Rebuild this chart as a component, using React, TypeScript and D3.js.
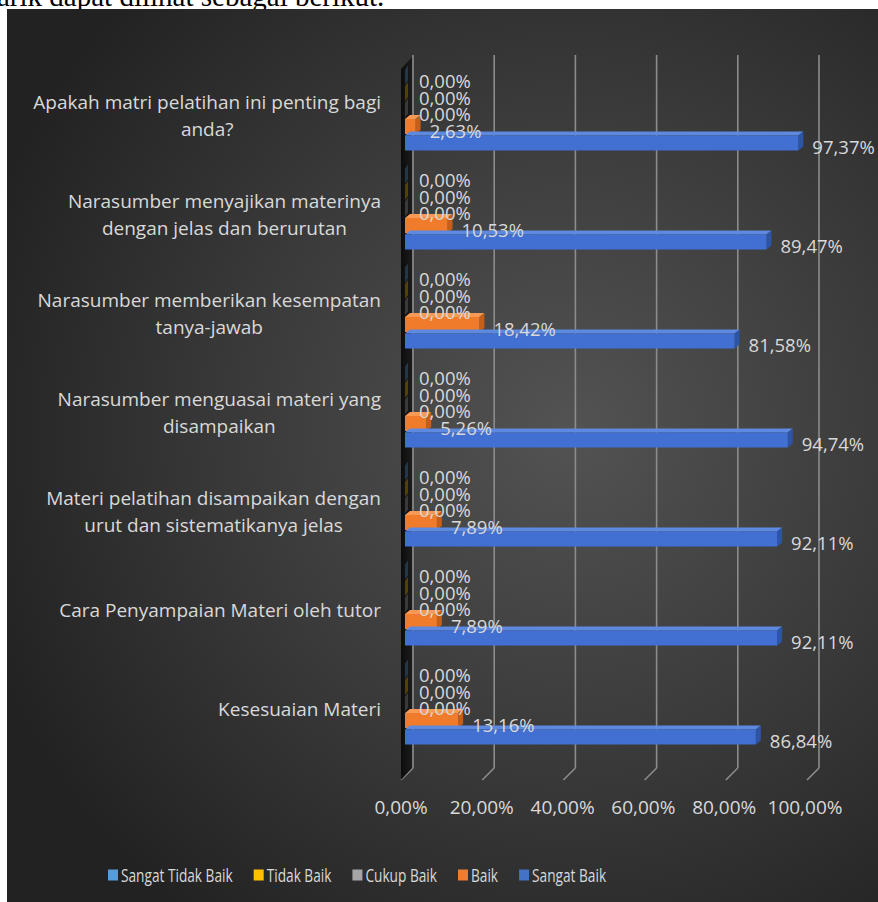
import React, { useEffect, useRef } from "react";
import * as d3 from "d3";

const categories = [
  "Apakah matri pelatihan ini penting bagi\nanda?",
  "Narasumber menyajikan materinya\ndengan jelas dan berurutan",
  "Narasumber memberikan kesempatan\ntanya-jawab",
  "Narasumber menguasai materi yang\ndisampaikan",
  "Materi pelatihan disampaikan dengan\nurut dan sistematikanya jelas",
  "Cara Penyampaian Materi oleh tutor",
  "Kesesuaian Materi",
];

const seriesNames = ["Sangat Tidak Baik", "Tidak Baik", "Cukup Baik", "Baik", "Sangat Baik"];
const sangatTidakBaik = [0, 0, 0, 0, 0, 0, 0];
const tidakBaik = [0, 0, 0, 0, 0, 0, 0];
const cukupBaik = [0, 0, 0, 0, 0, 0, 0];
const baik = [2.63, 10.53, 18.42, 5.26, 7.89, 7.89, 13.16];
const sangatBaik = [97.37, 89.47, 81.58, 94.74, 92.11, 92.11, 86.84];
const tickValues = [0, 20, 40, 60, 80, 100];

const seriesValues = [sangatTidakBaik, tidakBaik, cukupBaik, baik, sangatBaik];
const seriesColors = [
  { front: "#5b9bd5", top: "#7db3e3", side: "#3f78ad", legend: "#5b9bd5" },
  { front: "#ffc000", top: "#ffd24d", side: "#c79500", legend: "#ffc000" },
  { front: "#a5a5a5", top: "#c0c0c0", side: "#808080", legend: "#a5a5a5" },
  { front: "#f07b2a", top: "#f89a55", side: "#c45e18", legend: "#ed7d31" },
  { front: "#4170d2", top: "#5d8ae0", side: "#2d55a6", legend: "#4472c4" },
];

const fmt = (v: number) => v.toFixed(2).replace(".", ",") + "%";

export default function App() {
  const ref = useRef<SVGSVGElement | null>(null);

  useEffect(() => {
    const svg = d3.select(ref.current);
    svg.selectAll("*").remove();
    const FONT = "'Open Sans', 'Noto Sans', sans-serif";
    const TXT = "#d9d9d9";

    const defs = svg.append("defs");
    const rg = defs
      .append("radialGradient")
      .attr("id", "bg")
      .attr("gradientUnits", "userSpaceOnUse")
      .attr("cx", 570)
      .attr("cy", 430)
      .attr("r", 620);
    rg.append("stop").attr("offset", "0").attr("stop-color", "#535353");
    rg.append("stop").attr("offset", "0.55").attr("stop-color", "#393939");
    rg.append("stop").attr("offset", "1").attr("stop-color", "#222222");
    const wg = defs
      .append("linearGradient")
      .attr("id", "wall")
      .attr("x1", 0)
      .attr("y1", 0)
      .attr("x2", 1)
      .attr("y2", 0);
    wg.append("stop").attr("offset", "0").attr("stop-color", "#0c0c0c");
    wg.append("stop").attr("offset", "1").attr("stop-color", "#1c1c1c");

    // page text above chart
    svg
      .append("text")
      .attr("x", -3)
      .attr("y", 6)
      .attr("font-family", "'Liberation Serif', 'Times New Roman', serif")
      .attr("font-size", 29)
      .attr("fill", "#000")
      .text("arik dapat dilihat sebagai berikut.");

    // chart background
    svg
      .append("rect")
      .attr("x", 7)
      .attr("y", 9)
      .attr("width", 878 - 7)
      .attr("height", 902 - 9)
      .attr("fill", "url(#bg)");

    const depthX = 12;
    const depthY = 12;
    const backTop = 55;
    const backBottom = 768;

    const xFront = d3.scaleLinear().domain([0, 100]).range([401, 805]);
    const xBar = d3.scaleLinear().domain([0, 100]).range([405, 809]);
    const xBack = d3.scaleLinear().domain([0, 100]).range([413, 819]);
    const y = d3.scaleBand<string>().domain(categories).range([60.5, 753.5]);
    const slot = y.bandwidth() / 6;

    // gridlines on back wall
    const g = svg.append("g");
    g.selectAll("line.grid")
      .data(tickValues)
      .join("line")
      .attr("x1", (d) => xBack(d))
      .attr("x2", (d) => xBack(d))
      .attr("y1", backTop)
      .attr("y2", backBottom)
      .attr("stroke", "#8c8c8c")
      .attr("stroke-width", 1.6);
    g.selectAll("line.floor")
      .data(tickValues)
      .join("line")
      .attr("x1", (d) => xBack(d))
      .attr("x2", (d) => xBack(d) - depthX)
      .attr("y1", backBottom)
      .attr("y2", backBottom + depthY)
      .attr("stroke", "#8c8c8c")
      .attr("stroke-width", 1.6);

    // side wall
    g.append("polygon")
      .attr(
        "points",
        [
          [xBack(0) - depthX, backTop + 14],
          [xBack(0) - 1, backTop + 2],
          [xBack(0) - 1, backBottom],
          [xBack(0) - depthX, backBottom + depthY],
        ]
          .map((p) => p.join(","))
          .join(" ")
      )
      .attr("fill", "url(#wall)");

    // bars (top to bottom so lower bars overlap upper ones)
    const bd = 5;
    const bh = 4;
    const faceH = 15;
    categories.forEach((cat, i) => {
      const bandStart = y(cat)!;
      seriesValues.forEach((vals, k) => {
        const v = vals[i];
        const cy = bandStart + slot * (k + 1);
        const x0 = xBar(0);
        const x1 = xBar(v);
        const yt = cy - faceH / 2;
        const yb = cy + faceH / 2;
        const c = seriesColors[k];
        if (v > 0) {
          g.append("polygon")
            .attr("points", `${x0},${yt} ${x1},${yt} ${x1 + bd},${yt - bh} ${x0 + bd},${yt - bh}`)
            .attr("fill", c.top);
          g.append("polygon")
            .attr("points", `${x1},${yt} ${x1 + bd},${yt - bh} ${x1 + bd},${yb - bh} ${x1},${yb}`)
            .attr("fill", c.side);
          g.append("rect")
            .attr("x", x0)
            .attr("y", yt)
            .attr("width", x1 - x0)
            .attr("height", faceH)
            .attr("fill", c.front);
        } else {
          g.append("polygon")
            .attr("points", `${x0},${yt} ${x0 + bd - 2},${yt - bh} ${x0 + bd - 2},${yb - bh} ${x0},${yb}`)
            .attr("fill", c.side)
            .attr("opacity", 0.35);
        }
      });
    });

    // data labels
    categories.forEach((cat, i) => {
      const bandStart = y(cat)!;
      seriesValues.forEach((vals, k) => {
        const v = vals[i];
        const cy = bandStart + slot * (k + 1);
        g.append("text")
          .attr("x", xBar(v) + 14)
          .attr("y", cy + 3.5)
          .attr("dominant-baseline", "central")
          .attr("font-family", FONT)
          .attr("font-size", 18.5)
          .attr("fill", TXT)
          .text(fmt(v));
      });
    });

    // category labels
    categories.forEach((cat) => {
      const bandStart = y(cat)!;
      const center = bandStart + y.bandwidth() / 2 + 5;
      const lines = cat.split("\n");
      const lh = 27;
      const nodes = lines.map((line, j) =>
        g
          .append("text")
          .attr("y", center + (j - (lines.length - 1) / 2) * lh)
          .attr("dominant-baseline", "central")
          .attr("text-anchor", "middle")
          .attr("font-family", FONT)
          .attr("font-size", 19)
          .attr("fill", TXT)
          .text(line)
      );
      const maxW = d3.max(nodes, (n) => (n.node() as SVGTextElement).getComputedTextLength()) || 0;
      nodes.forEach((n) => n.attr("x", 381 - maxW / 2));
    });

    // x tick labels
    g.selectAll("text.tick")
      .data(tickValues)
      .join("text")
      .attr("x", (d) => xFront(d))
      .attr("y", 807)
      .attr("dominant-baseline", "central")
      .attr("text-anchor", "middle")
      .attr("font-family", FONT)
      .attr("font-size", 19)
      .attr("fill", TXT)
      .text((d) => fmt(d));

    // legend
    const lg = svg.append("g");
    let lx = 108;
    const ly = 875;
    const sx = 0.72;
    seriesNames.forEach((name, k) => {
      lg.append("rect")
        .attr("x", lx)
        .attr("y", ly - 5.5)
        .attr("width", 10)
        .attr("height", 11)
        .attr("fill", seriesColors[k].legend);
      const t = lg
        .append("text")
        .attr("x", 0)
        .attr("y", 0)
        .attr("dominant-baseline", "central")
        .attr("font-family", FONT)
        .attr("font-size", 19)
        .attr("fill", TXT)
        .text(name);
      const tx = lx + 13;
      t.attr("transform", `translate(${tx},${ly}) scale(${sx},1)`);
      const w = (t.node() as SVGTextElement).getComputedTextLength() * sx;
      lx = tx + w + 21;
    });
  }, []);

  return (
    <svg
      ref={ref}
      width={878}
      height={902}
      style={{ position: "absolute", left: 0, top: 0, background: "#fff" }}
    />
  );
}
